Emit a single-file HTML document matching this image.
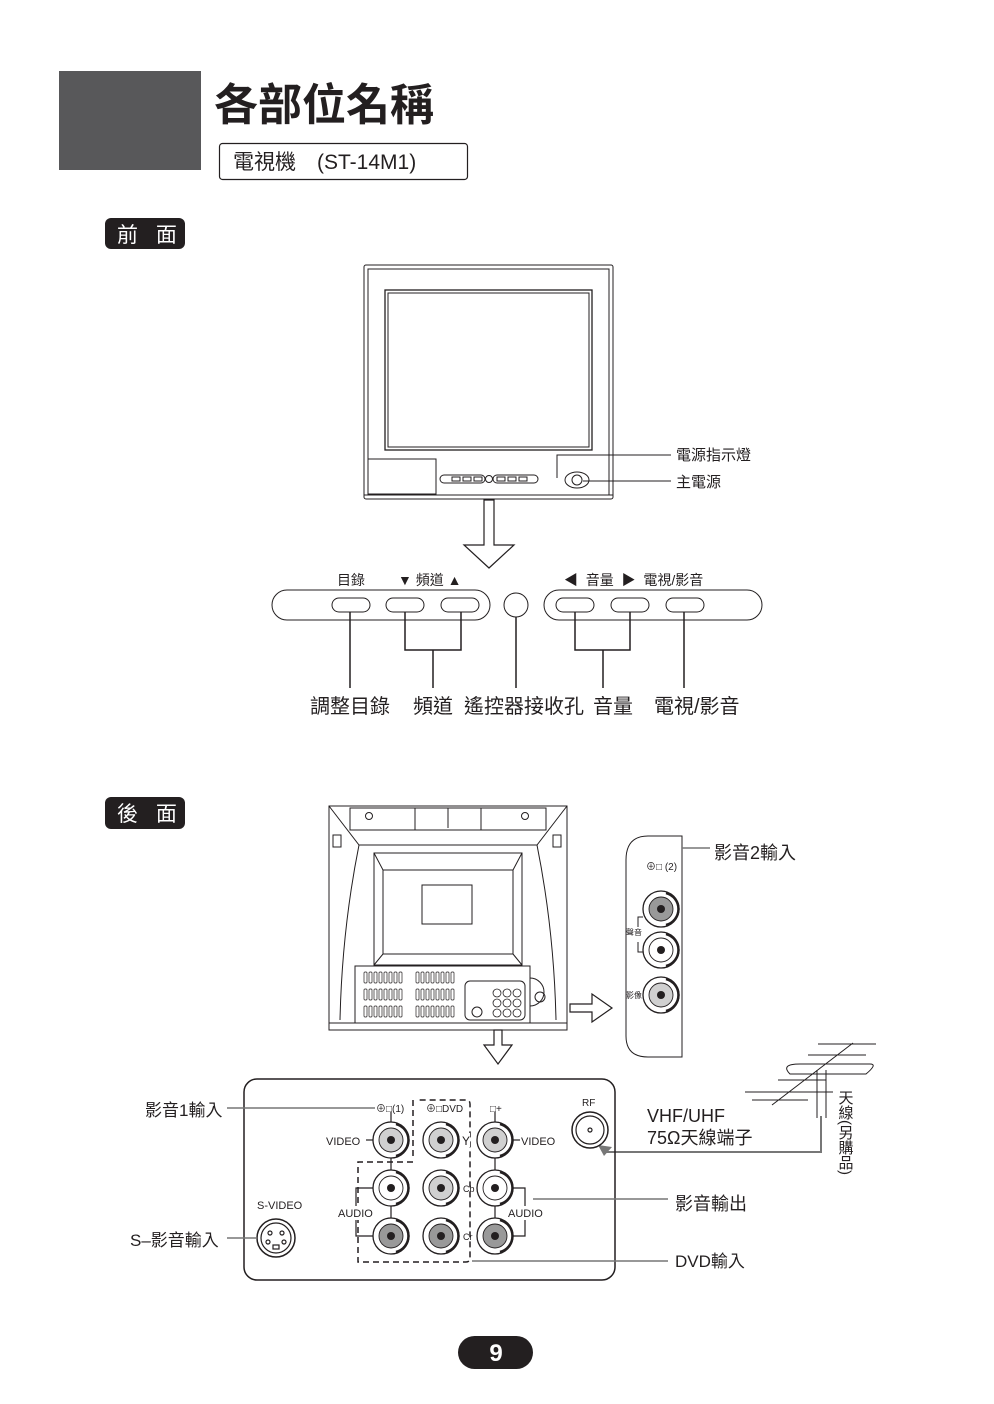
<!DOCTYPE html>
<html><head><meta charset="utf-8"><style>
html,body{margin:0;padding:0;background:#fff}
svg{display:block}
text{font-family:"Liberation Sans","Noto Sans CJK TC",sans-serif;fill:#231f20}
</style></head><body>
<svg width="994" height="1404" viewBox="0 0 994 1404" xmlns="http://www.w3.org/2000/svg">
<defs>
<g id="jw"><circle r="18" fill="#fff" stroke="#231f20" stroke-width="1.3"/><path d="M5,-16 A16.5,16.5 0 0 1 5,16" fill="none" stroke="#231f20" stroke-width="2.5"/><circle r="12" fill="#fff" stroke="#231f20" stroke-width="0.9"/><circle r="4" fill="#231f20"/></g>
<g id="jg"><circle r="18" fill="#fff" stroke="#231f20" stroke-width="1.3"/><path d="M5,-16 A16.5,16.5 0 0 1 5,16" fill="none" stroke="#231f20" stroke-width="2.5"/><circle r="12" fill="#d0d0d0" stroke="#231f20" stroke-width="0.9"/><circle r="4" fill="#231f20"/></g>
<g id="jd"><circle r="18" fill="#fff" stroke="#231f20" stroke-width="1.3"/><path d="M5,-16 A16.5,16.5 0 0 1 5,16" fill="none" stroke="#231f20" stroke-width="2.5"/><circle r="12" fill="#999" stroke="#231f20" stroke-width="0.9"/><circle r="4" fill="#231f20"/></g>
<g id="vent"><rect x="0" y="0" width="3" height="11" rx="1" fill="none" stroke="#231f20" stroke-width="0.7"/></g>
</defs>

<rect x="59" y="71" width="142" height="99" fill="#58585a"/>
<text x="214" y="120" font-size="44" font-weight="bold">各部位名稱</text>
<rect x="219.5" y="143.5" width="248" height="36" rx="3" fill="none" stroke="#231f20" stroke-width="1.2"/>
<text x="233" y="169" font-size="21">電視機　(ST-14M1)</text>

<rect x="105" y="218" width="80" height="31" rx="6" fill="#231f20"/>
<text x="117" y="242" font-size="21" style="fill:#fff" letter-spacing="6">前 面</text>
<rect x="105" y="797" width="80" height="32" rx="6" fill="#231f20"/>
<text x="117" y="821" font-size="21" style="fill:#fff" letter-spacing="6">後 面</text>

<g fill="none" stroke="#231f20" stroke-width="1">
<rect x="364" y="265" width="249" height="234" rx="2"/>
<rect x="368" y="269" width="241" height="226"/>
<rect x="385" y="290" width="207" height="160" stroke-width="1.3"/>
<rect x="388" y="293" width="201" height="154"/>
<rect x="368" y="459" width="68" height="35"/>
<rect x="440" y="475" width="45" height="8" rx="4"/>
<rect x="493" y="475" width="45" height="8" rx="4"/>
<rect x="452" y="477" width="8" height="4"/><rect x="463" y="477" width="8" height="4"/><rect x="474" y="477" width="8" height="4"/>
<rect x="497" y="477" width="8" height="4"/><rect x="508" y="477" width="8" height="4"/><rect x="519" y="477" width="8" height="4"/>
<circle cx="489" cy="479" r="3.5"/>
<ellipse cx="577" cy="480" rx="12" ry="8"/><circle cx="577" cy="480" r="5"/>
<line x1="364" y1="495" x2="613" y2="495"/>
<polyline points="557,478 557,455 671,455"/>
<line x1="583" y1="481" x2="671" y2="481"/>
<polygon points="484,500 494,500 494,545 514,545 489,568 464,545 484,545" stroke-width="1.2"/>
<rect x="272" y="590" width="218" height="30" rx="15"/>
<circle cx="516" cy="605" r="12"/>
<rect x="544" y="590" width="218" height="30" rx="15"/>
<rect x="332" y="598" width="38" height="14" rx="7"/>
<rect x="386" y="598" width="38" height="14" rx="7"/>
<rect x="441" y="598" width="38" height="14" rx="7"/>
<rect x="556" y="598" width="38" height="14" rx="7"/>
<rect x="611" y="598" width="38" height="14" rx="7"/>
<rect x="666" y="598" width="38" height="14" rx="7"/>
<g stroke-width="1.5">
<line x1="350" y1="612" x2="350" y2="688"/>
<polyline points="405,612 405,650 461,650 461,612"/><line x1="433" y1="650" x2="433" y2="688"/>
<line x1="516" y1="617" x2="516" y2="688"/>
<polyline points="575,612 575,650 630,650 630,612"/><line x1="603" y1="650" x2="603" y2="688"/>
<line x1="684" y1="612" x2="684" y2="688"/>
</g>
</g>
<text x="676" y="460" font-size="15">電源指示燈</text>
<text x="676" y="487" font-size="15">主電源</text>
<text x="337" y="585" font-size="14">目錄</text>
<text x="398" y="585" font-size="14">▼ 頻道 ▲</text>
<text x="564" y="585" font-size="14">◀&#160; 音量 &#160;▶&#160; 電視/影音</text>
<text x="310" y="713" font-size="20">調整目錄</text>
<text x="413" y="713" font-size="20">頻道</text>
<text x="464" y="713" font-size="20">遙控器接收孔</text>
<text x="593" y="713" font-size="20">音量</text>
<text x="654" y="713" font-size="20">電視/影音</text>

<g fill="none" stroke="#231f20" stroke-width="1">
<rect x="329" y="806" width="238" height="224"/>
<polyline points="329,806 359,845 537,845 567,806"/>
<rect x="350" y="808" width="196" height="22"/>
<rect x="415" y="808" width="66" height="22"/>
<line x1="448" y1="808" x2="448" y2="828"/>
<circle cx="369" cy="816" r="3.5"/><circle cx="525" cy="816" r="3.5"/>
<path d="M359,845 Q342,930 340,1020"/><path d="M537,845 Q554,930 556,1020"/>
<rect x="374" y="853" width="148" height="112"/>
<rect x="383" y="870" width="130" height="84"/>
<line x1="374" y1="853" x2="383" y2="870"/><line x1="522" y1="853" x2="513" y2="870"/>
<line x1="374" y1="965" x2="383" y2="954"/><line x1="522" y1="965" x2="513" y2="954"/>
<rect x="422" y="885" width="50" height="39"/>
<rect x="355" y="966" width="175" height="57"/>
<rect x="465" y="981" width="60" height="39" rx="5"/>
<path d="M530,978 a14,14 0 0 1 0,28"/><circle cx="540" cy="997" r="5"/>
<circle cx="477" cy="1012" r="5"/>
<g stroke-width="0.8">
<circle cx="497" cy="993" r="4"/><circle cx="507" cy="993" r="4"/><circle cx="517" cy="993" r="4"/>
<circle cx="497" cy="1003" r="4"/><circle cx="507" cy="1003" r="4"/><circle cx="517" cy="1003" r="4"/>
<circle cx="497" cy="1013" r="4"/><circle cx="507" cy="1013" r="4"/><circle cx="517" cy="1013" r="4"/>
</g>
<rect x="333" y="835" width="8" height="12"/><rect x="553" y="835" width="8" height="12"/>
<line x1="329" y1="1023" x2="567" y2="1023"/>
<polygon points="570,1004 592,1004 592,994 612,1008 592,1022 592,1012 570,1012" stroke-width="1.2"/>
<polygon points="494,1030 502,1030 502,1045 512,1045 498,1064 484,1045 494,1045" stroke-width="1.2"/>
<path d="M682,836 L648,836 Q626,836 626,860 L626,1036 Q626,1057 648,1057 L682,1057 Z"/>
<line x1="682" y1="848" x2="710" y2="848" stroke="#777" stroke-width="1.5"/>
<polyline points="643,917 638,917 638,927"/><polyline points="638,942 638,952 643,952"/>
</g>
<!-- vents -->
<g>
<use href="#vent" x="364" y="972"/><use href="#vent" x="369" y="972"/><use href="#vent" x="374" y="972"/><use href="#vent" x="379" y="972"/><use href="#vent" x="384" y="972"/><use href="#vent" x="389" y="972"/><use href="#vent" x="394" y="972"/><use href="#vent" x="399" y="972"/>
<use href="#vent" x="416" y="972"/><use href="#vent" x="421" y="972"/><use href="#vent" x="426" y="972"/><use href="#vent" x="431" y="972"/><use href="#vent" x="436" y="972"/><use href="#vent" x="441" y="972"/><use href="#vent" x="446" y="972"/><use href="#vent" x="451" y="972"/>
<use href="#vent" x="364" y="989"/><use href="#vent" x="369" y="989"/><use href="#vent" x="374" y="989"/><use href="#vent" x="379" y="989"/><use href="#vent" x="384" y="989"/><use href="#vent" x="389" y="989"/><use href="#vent" x="394" y="989"/><use href="#vent" x="399" y="989"/>
<use href="#vent" x="416" y="989"/><use href="#vent" x="421" y="989"/><use href="#vent" x="426" y="989"/><use href="#vent" x="431" y="989"/><use href="#vent" x="436" y="989"/><use href="#vent" x="441" y="989"/><use href="#vent" x="446" y="989"/><use href="#vent" x="451" y="989"/>
<use href="#vent" x="364" y="1006"/><use href="#vent" x="369" y="1006"/><use href="#vent" x="374" y="1006"/><use href="#vent" x="379" y="1006"/><use href="#vent" x="384" y="1006"/><use href="#vent" x="389" y="1006"/><use href="#vent" x="394" y="1006"/><use href="#vent" x="399" y="1006"/>
<use href="#vent" x="416" y="1006"/><use href="#vent" x="421" y="1006"/><use href="#vent" x="426" y="1006"/><use href="#vent" x="431" y="1006"/><use href="#vent" x="436" y="1006"/><use href="#vent" x="441" y="1006"/><use href="#vent" x="446" y="1006"/><use href="#vent" x="451" y="1006"/>
</g>
<use href="#jd" x="661" y="909"/>
<use href="#jw" x="661" y="950"/>
<use href="#jg" x="661" y="995"/>
<text x="646" y="870" font-size="10">⊕□ (2)</text>
<text x="626" y="935" font-size="8">聲音</text>
<text x="626" y="998" font-size="8">影像</text>
<text x="714" y="859" font-size="18">影音2輸入</text>

<g fill="none" stroke="#231f20" stroke-width="1">
<line x1="818" y1="1044" x2="876" y2="1044"/>
<line x1="808" y1="1055" x2="866" y2="1055"/>
<path d="M790,1074 Q780,1064 800,1064 L870,1064 Q878,1064 866,1074 Z"/>
<line x1="778" y1="1080" x2="826" y2="1080"/>
<line x1="745" y1="1092" x2="833" y2="1092"/>
<line x1="752" y1="1100" x2="808" y2="1100"/>
<line x1="772" y1="1105" x2="853" y2="1043"/>
<line x1="817" y1="1070" x2="817" y2="1118"/><line x1="826" y1="1070" x2="826" y2="1118"/>
</g>
<polyline points="821,1116 821,1152 605,1152" fill="none" stroke="#777" stroke-width="2"/>
<polygon points="598,1145 612,1147 604,1156" fill="#777"/>
<text x="845" y="1090" font-size="15" writing-mode="tb" style="writing-mode:vertical-rl">天線(另購品)</text>
<text x="647" y="1122" font-size="18">VHF/UHF</text>
<text x="647" y="1144" font-size="18">75Ω天線端子</text>

<rect x="244" y="1079" width="371" height="201" rx="13" fill="none" stroke="#231f20" stroke-width="1.5"/>
<g fill="none" stroke="#231f20" stroke-width="1.2">
<line x1="391" y1="1112" x2="391" y2="1236"/>
<line x1="495" y1="1112" x2="495" y2="1236"/>
<polyline points="373,1188 356,1188 356,1236 373,1236"/>
<polyline points="513,1188 525,1188 525,1236 513,1236"/>
<line x1="366" y1="1140" x2="373" y2="1140"/><line x1="513" y1="1140" x2="520" y2="1140"/>
<g stroke-dasharray="6,4" stroke-width="1.5">
<path d="M413,1100 L413,1158"/>
<path d="M413,1162 L358,1162 L358,1262 L466,1262 Q470,1262 470,1258 L470,1104 Q470,1100 466,1100 L417,1100"/>
</g>
<circle cx="590" cy="1130" r="18" stroke-width="1.5"/><circle cx="590" cy="1130" r="14"/><circle cx="590" cy="1130" r="2"/>
<circle cx="276" cy="1238" r="19" stroke-width="1.5"/><circle cx="276" cy="1238" r="15"/>
<circle cx="270" cy="1233" r="2"/><circle cx="282" cy="1233" r="2"/><circle cx="268" cy="1242" r="2"/><circle cx="284" cy="1242" r="2"/>
<rect x="273" y="1245" width="6" height="4"/>
</g>
<g stroke="#777" stroke-width="1.5">
<line x1="227" y1="1108" x2="375" y2="1108"/>
<line x1="227" y1="1238" x2="257" y2="1238"/>
<line x1="533" y1="1199" x2="668" y2="1199"/>
<line x1="472" y1="1261" x2="668" y2="1261"/>
</g>
<use href="#jg" x="391" y="1140"/><use href="#jg" x="441" y="1140"/><use href="#jg" x="495" y="1140"/>
<use href="#jw" x="391" y="1188"/><use href="#jg" x="441" y="1188"/><use href="#jw" x="495" y="1188"/>
<use href="#jd" x="391" y="1236"/><use href="#jd" x="441" y="1236"/><use href="#jd" x="495" y="1236"/>
<rect x="337" y="1206" width="37" height="14" fill="#fff"/>
<rect x="507" y="1206" width="37" height="14" fill="#fff"/>
<rect x="461" y="1133" width="9" height="14" fill="#fff"/>
<text x="376" y="1112" font-size="10">⊕□(1)</text>
<text x="426" y="1112" font-size="10">⊕□DVD</text>
<text x="490" y="1112" font-size="10">□+</text>
<text x="326" y="1145" font-size="11">VIDEO</text>
<text x="462" y="1145" font-size="12">Y</text>
<text x="521" y="1145" font-size="11">VIDEO</text>
<text x="463" y="1192" font-size="9">Cb</text>
<text x="463" y="1240" font-size="9">Cr</text>
<text x="338" y="1217" font-size="11">AUDIO</text>
<text x="508" y="1217" font-size="11">AUDIO</text>
<text x="257" y="1209" font-size="11">S-VIDEO</text>
<text x="582" y="1106" font-size="10">RF</text>
<text x="145" y="1116" font-size="17">影音1輸入</text>
<text x="130" y="1246" font-size="17">S–影音輸入</text>
<text x="675" y="1210" font-size="18">影音輸出</text>
<text x="675" y="1267" font-size="17">DVD輸入</text>

<rect x="458" y="1336" width="75" height="33" rx="16.5" fill="#231f20"/>
<text x="496" y="1361" font-size="24" font-weight="bold" text-anchor="middle" style="fill:#fff">9</text>
</svg>
</body></html>
